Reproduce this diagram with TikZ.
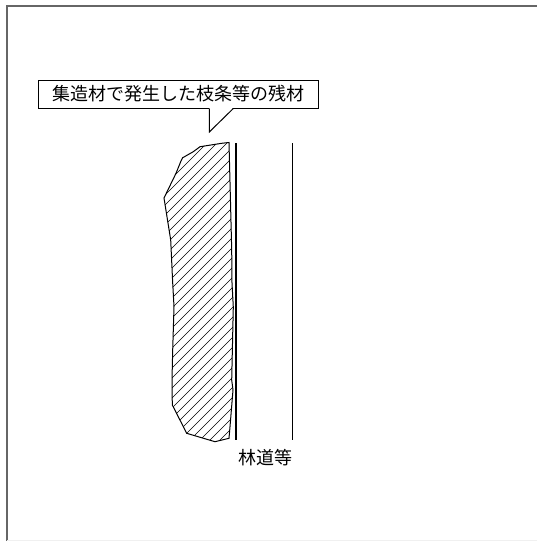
\documentclass[tikz,border=0pt]{standalone}
\usepackage{fontspec}
\newfontfamily\jpfont{Noto Sans CJK JP}
\usetikzlibrary{calc}

\begin{document}
\begin{tikzpicture}[x = 1pt, y = -1pt, every node/.style = {font = \jpfont\fontsize{18}{20}\selectfont}]
			\useasboundingbox (0,0) rectangle (537,541);
			
			\draw[line width = 2, black!60] (6.5,541) -- (6.5,5.5) -- (537,5.5); % frame
			\draw[line width = 1, black!6] (7,540.5) -- (537,540.5);
			
			% hatched slash pile
			\begin{scope}
				\clip (229,142.5) -- (221.7,143.3) -- (200,146.7) -- (193.3,151.7) -- (182.7,157.7) -- (180.7,161.7) -- (176,173.3) -- (164,198) -- (170.7,240) -- (172.7,283) -- (174,306.7) -- (172.7,350) -- (172,380) -- (172.3,405) -- (186.7,433.3) -- (215,441.7) -- (229,438.3) -- (230,426.7) -- (233,390) -- (231.7,380) -- (233.3,307) -- (232,283) -- (231.7,250) -- cycle;
				\foreach \c in {300,310,...,680}
					\draw[line width = 0.6] ({\c-450},450) -- ({\c-130},130);
			\end{scope}
			\draw[line width = 1] (229,142.5) -- (221.7,143.3) -- (200,146.7) -- (193.3,151.7) -- (182.7,157.7) -- (180.7,161.7) -- (176,173.3) -- (164,198) -- (170.7,240) -- (172.7,283) -- (174,306.7) -- (172.7,350) -- (172,380) -- (172.3,405) -- (186.7,433.3) -- (215,441.7) -- (229,438.3) -- (230,426.7) -- (233,390) -- (231.7,380) -- (233.3,307) -- (232,283) -- (231.7,250) -- cycle;
			
			% forest road
			\coordinate (roadA) at (236,143);
			\coordinate (roadB) at (292.7,143);
			\draw[line width = 1.5] (roadA) -- (236,440);
			\draw[line width = 1.5] (roadB) -- (292.7,440);
			\node (road) at (265.5,458) {林道等};
			
			% callout
			\node[draw, line width = 1, minimum width = 280, minimum height = 28, inner sep = 0] (callout) at (178,94) {集造材で発生した枝条等の残材};
			\coordinate (tip) at (209.3,132);
			\fill[white] ($(callout.south)+(31.3,-1)$) -- (tip) -- ($(callout.south)+(55.3,-1)$) -- cycle;
			\draw[line width = 1] ($(callout.south)+(31.3,0)$) -- (tip) -- ($(callout.south)+(55.3,0)$);
		\end{tikzpicture}
\end{document}
